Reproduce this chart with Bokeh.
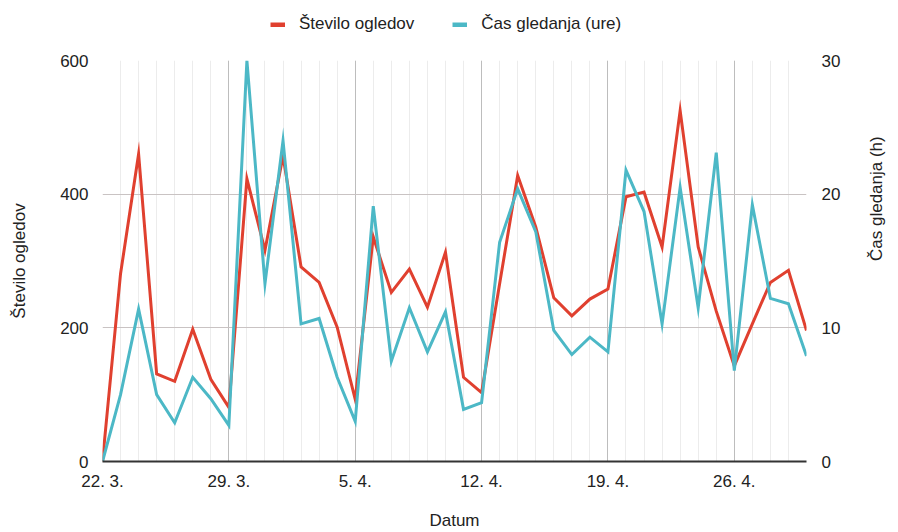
import math
from bokeh.plotting import figure
from bokeh.layouts import column
from bokeh.models import Range1d, LinearAxis, FixedTicker, Legend, LegendItem
from bokeh.embed import file_html
from bokeh.resources import INLINE

# ---- data ----
days = list(range(40))  # 22. 3. ... 30. 4.
tick_days = [0, 7, 14, 21, 28, 35]
tick_labels = ["22. 3.", "29. 3.", "5. 4.", "12. 4.", "19. 4.", "26. 4."]
views = [0, 281, 460, 131, 120, 198, 123, 81, 423, 316, 457, 291, 268, 201, 93,
         336, 253, 288, 231, 313, 126, 103, 266, 428, 351, 245, 218, 243, 258,
         396, 403, 321, 525, 321, 225, 143, 206, 268, 286, 196]
hours = [0, 5.0, 11.4, 5.0, 2.9, 6.3, 4.7, 2.7, 30.0, 13.3, 24.0, 10.3, 10.7,
         6.3, 3.0, 19.1, 7.5, 11.5, 8.2, 11.2, 3.9, 4.4, 16.4, 20.4, 17.2, 9.8,
         8.0, 9.3, 8.2, 21.8, 18.7, 10.3, 20.5, 11.5, 23.1, 6.8, 19.2, 12.2,
         11.8, 7.9]
series_names = ["Število ogledov", "Čas gledanja (ure)"]
left_ticks = [0, 200, 400, 600]
right_ticks = [0, 10, 20, 30]

RED = "#e0402f"
TEAL = "#4cb8c6"
FONT = "Liberation Sans"
TXT = "#222222"
FS = "17px"
W = 898
LEG_H = 44

# ---------- legend strip ----------
lg = figure(width=W, height=LEG_H, output_backend="svg", toolbar_location=None,
            x_range=Range1d(1000, 1001), y_range=Range1d(1000, 1001),
            min_border=0, x_axis_type=None, y_axis_type=None)
lg.outline_line_color = None
lg.xgrid.visible = False
lg.ygrid.visible = False
k1 = lg.line(days, views, line_color=RED, line_width=5, line_cap="butt")
k2 = lg.line(days, hours, line_color=TEAL, line_width=5, line_cap="butt")
legend = Legend(items=[LegendItem(label=series_names[0], renderers=[k1]),
                       LegendItem(label=series_names[1], renderers=[k2])],
                orientation="horizontal", location=(168, 10),
                padding=0, margin=0, spacing=38, glyph_width=15, glyph_height=5,
                label_standoff=14, label_text_font=FONT,
                label_text_font_size=FS, label_text_color=TXT,
                background_fill_alpha=0, border_line_color=None)
lg.add_layout(legend, "center")

# ---------- main chart ----------
p = figure(width=W, height=532 - LEG_H, output_backend="svg",
           toolbar_location=None,
           x_range=Range1d(0, 39), y_range=Range1d(0, 600),
           min_border_left=102, min_border_right=90, min_border_top=60 - LEG_H,
           min_border_bottom=71)
p.outline_line_color = None
p.extra_y_ranges = {"h": Range1d(0, 30)}

p.line(days, views, line_color=RED, line_width=3, line_join="miter")
p.line(days, hours, line_color=TEAL, line_width=3, line_join="miter",
       y_range_name="h")

# x axis
xt = FixedTicker(ticks=tick_days, minor_ticks=days)
xa = p.xaxis[0]
xa.ticker = xt
xa.major_label_overrides = {d: l for d, l in zip(tick_days, tick_labels)}
xa.axis_line_color = "#333333"
xa.axis_line_width = 2
xa.major_tick_line_color = None
xa.minor_tick_line_color = None
xa.major_label_standoff = 4
xa.major_label_text_font = FONT
xa.major_label_text_font_size = FS
xa.major_label_text_color = TXT
xa.axis_label = "Datum"
xa.axis_label_standoff = 17
xa.axis_label_text_font = FONT
xa.axis_label_text_font_size = FS
xa.axis_label_text_font_style = "normal"
xa.axis_label_text_color = TXT

p.xgrid.ticker = xt
p.xgrid.grid_line_color = "#bdbdbd"
p.xgrid.minor_grid_line_color = "#ececec"

# left axis
ya = p.yaxis[0]
ya.ticker = FixedTicker(ticks=left_ticks)
ya.axis_line_color = None
ya.major_tick_line_color = None
ya.minor_tick_line_color = None
ya.major_label_standoff = 8
ya.major_label_text_font = FONT
ya.major_label_text_font_size = FS
ya.major_label_text_color = TXT
ya.axis_label = "Število ogledov"
ya.axis_label_standoff = 28
ya.axis_label_text_font = FONT
ya.axis_label_text_font_size = FS
ya.axis_label_text_font_style = "normal"
ya.axis_label_text_color = TXT

p.ygrid.ticker = FixedTicker(ticks=left_ticks)
p.ygrid.grid_line_color = "#c9c3c3"

# right axis
ra = LinearAxis(y_range_name="h", ticker=FixedTicker(ticks=right_ticks))
ra.axis_line_color = None
ra.major_tick_line_color = None
ra.minor_tick_line_color = None
ra.major_label_standoff = 9
ra.major_label_text_font = FONT
ra.major_label_text_font_size = FS
ra.major_label_text_color = TXT
ra.axis_label = "Čas gledanja (h)"
ra.axis_label_standoff = 33
ra.axis_label_orientation = math.pi / 2
ra.axis_label_text_font = FONT
ra.axis_label_text_font_size = FS
ra.axis_label_text_font_style = "normal"
ra.axis_label_text_color = TXT
p.add_layout(ra, "right")

open("out.html", "w").write(file_html(column(lg, p, spacing=0), INLINE))
